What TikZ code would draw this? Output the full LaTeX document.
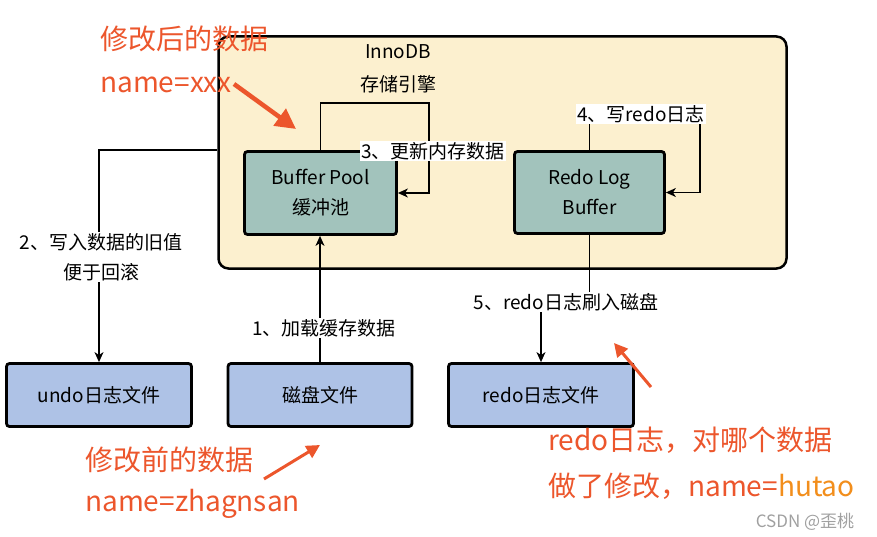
\documentclass[tikz,border=0pt]{standalone}
\usepackage{fontspec}
\setmainfont{Noto Sans CJK SC}
\usetikzlibrary{arrows.meta}
\definecolor{boxyellow}{RGB}{252,240,207}
\definecolor{boxteal}{RGB}{162,195,188}
\definecolor{boxblue}{RGB}{174,194,230}
\definecolor{annored}{RGB}{236,86,44}
\definecolor{annoorange}{RGB}{242,142,28}
\definecolor{wmgray}{RGB}{160,160,160}
\tikzset{
  engine/.style={draw=black, line width=2.5pt, fill=boxyellow, rounded corners=10pt, inner sep=0pt},
  membox/.style={draw=black, line width=2.8pt, fill=boxteal, rounded corners=3pt, inner sep=0pt, align=center, font=\fontsize{19}{30}\selectfont},
  filebox/.style={draw=black, line width=2.8pt, fill=boxblue, rounded corners=3pt, inner sep=0pt, font=\fontsize{19}{22}\selectfont},
  conn/.style={draw=black, line width=1.2pt, -{Stealth[length=10pt,width=9pt,inset=3pt]}},
  lbl/.style={fill=white, inner sep=1.5pt, align=center, font=\fontsize{19}{30}\selectfont},
  anno/.style={text=annored, inner sep=0pt, font=\fontsize{28}{34}\selectfont},
  redarrow/.style={draw=annored, line width=#1, -{Triangle[length=4.5*#1,width=4.5*#1]}},
}
\begin{document}
\begin{tikzpicture}[x=1pt,y=-1pt]
\useasboundingbox (0,0) rectangle (877,537);

% containers and boxes
\node[engine, minimum width=568pt, minimum height=232pt] (outer) at (502.5,152.5) {};
\node[align=center, inner sep=0pt, font=\fontsize{19}{33}\selectfont] (innodb) at (398,69) {InnoDB\\存储引擎};
\node[membox, minimum width=152pt, minimum height=83pt] (bp) at (320.5,193) {Buffer Pool\\缓冲池};
\node[membox, minimum width=150pt, minimum height=82pt] (rlb) at (589.5,192.5) {Redo Log\\Buffer};
\node[filebox, minimum width=185pt, minimum height=63pt] (undo) at (99,395) {undo日志文件};
\node[filebox, minimum width=184pt, minimum height=63pt] (disk) at (320,395) {磁盘文件};
\node[filebox, minimum width=185pt, minimum height=63pt] (redo) at (541,395) {redo日志文件};

% helper coordinates
\coordinate (l3) at (429,103);
\coordinate (l4) at (700,115);
\coordinate (c5) at (566,302);

% connectors
\draw[conn] (outer.west |- bp.north) -| (undo.north);
\draw[conn] (disk.north) -- (disk.north |- bp.south);
\draw[conn] (bp.north) |- (l3) |- (bp.east);
\draw[conn] (rlb.north) |- (l4) |- (rlb.east);
\draw[conn] (rlb.south) -- (rlb.south |- c5) -| (redo.north);

% connector labels
\node[lbl] (t1) at (324,328) {1、加载缓存数据};
\node[lbl] (t2) at (101,257) {2、写入数据的旧值\\便于回滚};
\node[lbl] (t3) at (433,151) {3、更新内存数据};
\node[lbl] (t4) at (641,114) {4、写redo日志};
\node[lbl] (t5) at (c5) {5、redo日志刷入磁盘};

% red annotations
\node[anno, anchor=base west] (a1) at (100,50) {修改后的数据};
\node[anno, anchor=base west] (a2) at (100,93) {name=xxx};
\node[anno, anchor=base west] (a3) at (85,470) {修改前的数据};
\node[anno, anchor=base west] (a4) at (85,511) {name=zhagnsan};
\node[anno, anchor=base west] (a5) at (548,450) {redo日志，对哪个数据};
\node[anno, anchor=base west] (a6) at (548,496) {做了修改，name=\textcolor{annoorange}{hutao}};

\coordinate (r1s) at (234,84);
\coordinate (r1e) at (296,129);
\coordinate (r2s) at (264,479);
\coordinate (r2e) at (320,445);
\coordinate (r3s) at (651,387);
\coordinate (r3e) at (614,343);
\draw[redarrow=4.5pt] (r1s) -- (r1e);
\draw[redarrow=3pt] (r2s) -- (r2e);
\draw[redarrow=3pt] (r3s) -- (r3e);

% watermark
\node[text=wmgray, inner sep=0pt, font=\fontsize{17}{19}\selectfont] (wm) at (805,522) {CSDN @歪桃};
\end{tikzpicture}
\end{document}
